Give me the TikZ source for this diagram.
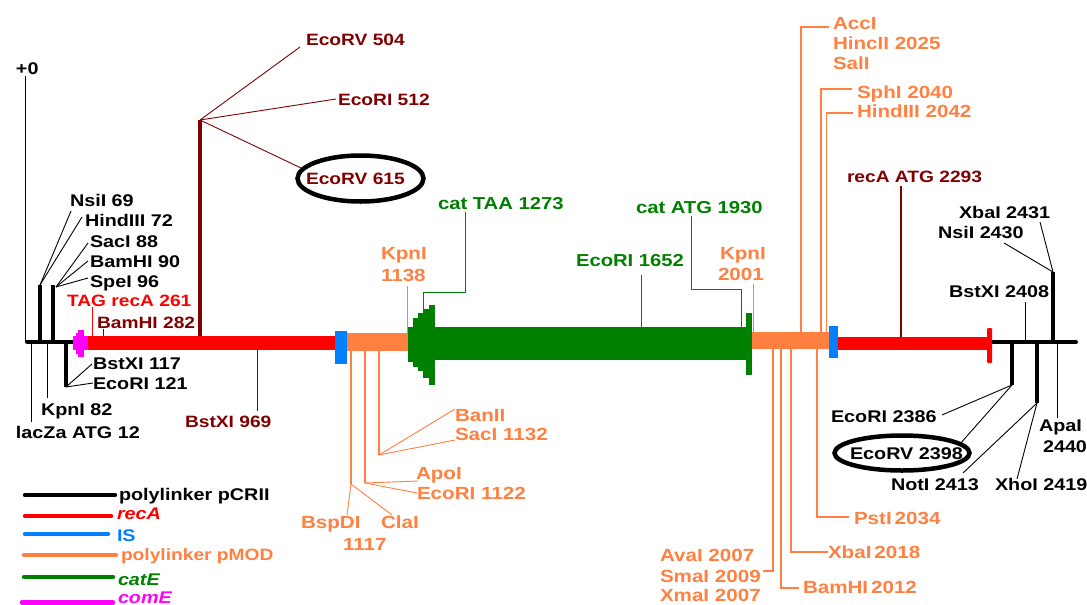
\documentclass[tikz,border=0pt]{standalone}
\usepackage{fontspec}
\setmainfont[FakeStretch=1.17]{Liberation Sans}
\usetikzlibrary{shapes.geometric}
\definecolor{mapred}{HTML}{FF0000}
\definecolor{mapdark}{HTML}{800000}
\definecolor{maporange}{HTML}{FF8040}
\definecolor{mapgreen}{HTML}{008000}
\definecolor{mapblue}{HTML}{0080FF}
\definecolor{mapmagenta}{HTML}{FF00FF}
\newcommand{\basefont}{\fontsize{16.9}{18}\selectfont\bfseries}
\newcommand{\smallerfont}{\fontsize{16.4}{18}\selectfont\bfseries}
\newcommand{\bigfont}{\fontsize{17.6}{18}\selectfont\bfseries}
\tikzset{
  lbl/.style={anchor=west, inner sep=0pt, outer sep=0pt, text height=12pt, text depth=0pt, font=\basefont},
  txtblack/.style={text=black},
  txtred/.style={text=mapred, font=\smallerfont},
  txtdark/.style={text=mapdark, font=\smallerfont},
  txtblue/.style={text=mapblue},
  txtorange/.style={text=maporange, font=\bigfont},
  txtorangetwo/.style={text=maporange, font=\smallerfont},
  txtgreen/.style={text=mapgreen, font=\fontsize{17.3}{18}\selectfont\bfseries},
  thinline/.style={line width=0.9pt},
  stub/.style={line width=3.6pt, black},
  ring/.style={draw=black, ellipse, line width=4.5pt, inner sep=0pt},
  legendbar/.style={line width=4.5pt, line cap=round},
  linker/.style={line width=1.9pt, maporange}
}
\begin{document}
\begin{tikzpicture}[x=1pt, y=-1pt]
    \useasboundingbox (0,0) rectangle (1087,605);
    \clip (0,0) rectangle (1087,605);

    % Labels
    \foreach \name/\sty/\x/\y/\txt in {
        zero/txtblack/16/68/+0,
        nsiA/txtblack/70/200/NsiI 69, hindA/txtblack/85/220/HindIII 72, sacA/txtblack/90/241/SacI 88,
        bamA/txtblack/90/261/BamHI 90, speA/txtblack/90/281/SpeI 96,
        bstA/txtblack/93/363/BstXI 117, ecoA/txtblack/93/383/EcoRI 121,
        kpnA/txtblack/41/409/KpnI 82, lacz/txtblack/16/432/lacZa ATG 12,
        tagrec/txtred/67/300/TAG recA 261, bamB/txtdark/97/322/BamHI 282, bstB/txtdark/185/421/BstXI 969,
        ecvA/txtdark/306/39/EcoRV 504, ecoB/txtdark/338/99/EcoRI 512, ecvB/txtdark/306/178/EcoRV 615,
        kpnB/txtorange/381/253/KpnI, kpnBn/txtorange/381/275/1138,
        cattaa/txtgreen/438/203/cat TAA 1273, ecoC/txtgreen/576/260/EcoRI 1652, catatg/txtgreen/636/207/cat ATG 1930,
        kpnC/txtorange/720/253/KpnI, kpnCn/txtorange/718/274/2001,
        acc/txtorange/833/23/AccI, hinc/txtorange/833/43/HincII 2025, sal/txtorange/833/63/SalI,
        sph/txtorange/857/92/SphI 2040, hindB/txtorange/857/111/HindIII 2042,
        recatg/txtdark/847/176/recA ATG 2293,
        xbaA/txtblack/959/212/XbaI 2431, nsiB/txtblack/938/232/NsiI 2430, bstC/txtblack/949/291/BstXI 2408,
        ecoD/txtblack/831/416/EcoRI 2386, ecvC/txtblack/850/453/EcoRV 2398, not/txtblack/891/484/NotI 2413,
        xho/txtblack/995/484/XhoI 2419, apa/txtblack/1039/425/ApaI, apan/txtblack/1043/446/2440,
        ban/txtorange/455/415/BanII, sacB/txtorange/455/434/SacI 1132,
        apo/txtorange/416/473/ApoI, ecoE/txtorange/417/493/EcoRI 1122,
        bsp/txtorange/301/522/BspDI, cla/txtorange/381/522/ClaI, bspn/txtorange/343/544/1117,
        pst/txtorange/854/518/PstI\,2034, xbaB/txtorange/828/552/XbaI\,2018, bamC/txtorange/803/587/BamHI\,2012,
        ava/txtorange/660/555/AvaI 2007, sma/txtorange/660/576/SmaI 2009, xma/txtorange/660/595/XmaI 2007,
        lgA/txtblack/119/494/polylinker pCRII, lgC/txtblue/117/535/IS, lgD/txtorangetwo/121/554/polylinker pMOD
    } {
        \node[lbl, \sty] (\name) at (\x,\y) {\txt};
    }
    \node[lbl, text=mapred, font=\basefont\itshape] (lgB) at (117,513) {recA};
    \node[lbl, text=mapgreen, font=\basefont\itshape] (lgE) at (118,579) {catE};
    \node[lbl, text=mapmagenta, font=\basefont\itshape] (lgF) at (118,597) {comE};

    % Rings
    \node[ring, minimum width=126pt, minimum height=46pt] (ringA) at (360.5,178.5) {};
    \node[ring, minimum width=135pt, minimum height=35pt] (ringB) at (902,453) {};

    % Points on the map
    \coordinate (stubA) at (40,285);
    \coordinate (stubB) at (53,285);
    \coordinate (stubC) at (66,387);
    \coordinate (fork) at (200,120);
    \coordinate (stubD) at (1012,385);
    \coordinate (stubE) at (1037,403);
    \coordinate (stubF) at (1053,272);
    \coordinate (forkB) at (379,455);
    \coordinate (forkC) at (365,483);
    \coordinate (forkD) at (351,484);

    % Thin lines on the left
    \draw[thinline] (25,341) -- (25,76);
    \draw[thinline] (31,341) -- (31,422);
    \draw[thinline] (47,341) -- (47,398);
    \draw[thinline] (stubA) -- (71,211);
    \draw[thinline] (stubA) -- (82,217);
    \draw[thinline] (56,287) -- (88,243);
    \draw[thinline] (56,287) -- (88,261);
    \draw[thinline] (56,287) -- (88,278);
    \draw[thinline] (stubC) -- (92,364);
    \draw[thinline] (stubC) -- (ecoA.west);

    % Dark red sites
    \draw[thinline, mapred] (92,307) -- (92,337);
    \draw[thinline, mapdark] (103,329) -- (103,337);
    \draw[line width=3.6pt, mapdark] (fork) -- (200,337);
    \draw[thinline, mapdark] (fork) -- (300,47);
    \draw[thinline, mapdark] (fork) -- (336,99);
    \draw[thinline, mapdark] (fork) -- (ringA.170);
    \draw[thinline, mapdark] (257,350) -- (257,411);
    \draw[line width=2.8pt, mapdark] (901,186) -- (901,338);

    % Green sites
    \draw[thinline, mapgreen] (465,212) -- (465,292) -- (423,292) -- (423,309);
    \draw[thinline, mapgreen] (641,275) -- (641,327);
    \draw[thinline, mapgreen] (691,216) -- (691,289) -- (741,289) -- (741,327);

    % Orange sites above the bar
    \draw[thinline, maporange] (407,286) -- (407,333);
    \draw[thinline, maporange] (753,284) -- (753,332);
    \draw[linker] (829,27) -- (801,27) -- (801,332);
    \draw[linker] (852,89) -- (821,89) -- (821,332);
    \draw[linker] (853,113) -- (826.5,113) -- (826.5,332);

    % Orange sites below the bar
    \draw[linker] (351,351) -- (forkD);
    \draw[linker] (365,351) -- (forkC);
    \draw[linker] (379,351) -- (forkB);
    \draw[thinline, maporange] (forkB) -- (ban.north west);
    \draw[thinline, maporange] (forkB) -- (sacB.south west);
    \draw[thinline, maporange] (forkC) -- (418,481);
    \draw[thinline, maporange] (forkC) -- (ecoE.west);
    \draw[thinline, maporange] (forkD) -- (347,515);
    \draw[thinline, maporange] (forkD) -- (392,515);
    \draw[linker] (773,349) -- (773,571) -- (763,571);
    \draw[linker] (781,349) -- (781,588) -- (799,588);
    \draw[linker] (791,349) -- (791,552) -- (xbaB.west);
    \draw[linker] (817,349) -- (817,517) -- (849,517);

    % Thin lines on the right
    \draw[thinline] (stubF) -- (1040,222);
    \draw[thinline] (stubF) -- (1004,243);
    \draw[thinline] (1025,302) -- (1025,341);
    \draw[thinline] (1057,341) -- (1057,418);
    \draw[thinline] (stubD) -- (942,415);
    \draw[thinline] (stubD) -- (ringB.10);
    \draw[thinline] (stubE) -- (963,473);
    \draw[thinline] (stubE) -- (1017,479);

    % Backbone and stubs
    \draw[line width=4pt, line cap=round] (27,341.5) -- (75,341.5);
    \draw[line width=4pt, line cap=round] (990,342) -- (1076,342);
    \draw[stub] (stubA) -- (40,341);
    \draw[stub] (stubB) -- (53,341);
    \draw[stub] (stubC) -- (66,341);
    \draw[stub] (stubD) -- (1012,342);
    \draw[stub] (stubE) -- (1037,342);
    \draw[stub] (stubF) -- (1053,342);

    % Bars
    \fill[mapred] (87,336) rectangle (336,350);
    \fill[mapblue] (335,331) rectangle (347,364);
    \fill[maporange] (347,333) rectangle (408,351);
    \fill[mapgreen] (435,327) rectangle (746,360);
    \fill[mapgreen] (746,313) rectangle (752,375);
    \fill[maporange] (752,332) rectangle (830,349);
    \fill[mapblue] (829,326) rectangle (838,358);
    \fill[mapred] (838,337) rectangle (988,350);
    \fill[mapred, rounded corners=1pt] (987,328) rectangle (992,363);
    \foreach \xa/\xb/\ya/\yb in {408/414/327/362, 413/419/318/367, 418/424/313/371, 423/430/309/378, 429/435/305/385} {
        \fill[mapgreen] (\xa,\ya) rectangle (\xb,\yb);
    }
    \foreach \xa/\xb/\ya/\yb in {73/77/336/350, 76/79/333/354, 78/84/330/357, 83/88/336/350} {
        \fill[mapmagenta] (\xa,\ya) rectangle (\xb,\yb);
    }

    % Legend
    \draw[legendbar, black] (25,495) -- (115,495);
    \draw[legendbar, mapred] (25,516) -- (111,516);
    \draw[legendbar, mapblue] (25,534) -- (108,534);
    \draw[legendbar, maporange] (24,555) -- (116,555);
    \draw[legendbar, mapgreen] (24,577) -- (113,577);
    \draw[legendbar, mapmagenta] (22,602.5) -- (113,602.5);
\end{tikzpicture}
\end{document}
